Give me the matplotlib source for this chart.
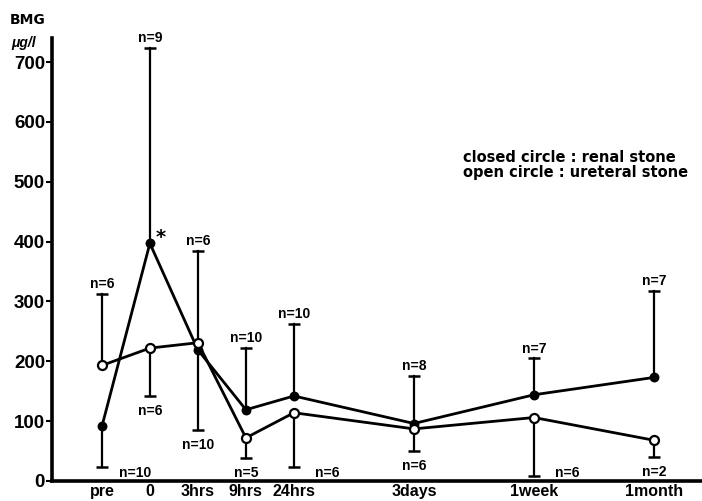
import matplotlib
matplotlib.use("Agg")
import matplotlib.pyplot as plt

# time points (x positions follow the uneven spacing of the original)
times = ["pre", "0", "3hrs", "9hrs", "24hrs", "3days", "1week", "1month"]
xpos = [0, 1, 2, 3, 4, 6.5, 9, 11.5]

# closed circle : renal stone
renal = [91, 397, 219, 119, 142, 96, 144, 173]
renal_bar = [23, 724, 385, 222, 262, 176, 205, 318]
renal_n = [10, 9, 6, 10, 10, 8, 7, 7]

# open circle : ureteral stone
ureteral = [193, 222, 231, 72, 114, 87, 106, 68]
ureteral_bar = [313, 142, 85, 39, 23, 50, 8, 40]
ureteral_n = [6, 6, 10, 5, 6, 6, 6, 2]

yticks = [0, 100, 200, 300, 400, 500, 600, 700]

lib = ["Liberation Sans", "DejaVu Sans"]

fig = plt.figure(figsize=(7.02, 5.01), dpi=100)
ax = fig.add_axes([0.074, 0.04, 0.926, 0.884])
ax.set_xlim(-1.04, 12.5)
ax.set_ylim(0, 740)

for s in ["top", "right"]:
    ax.spines[s].set_visible(False)
ax.spines["left"].set_linewidth(2.6)
ax.spines["bottom"].set_linewidth(2.6)

ax.set_yticks(yticks)
ax.set_yticklabels([str(v) for v in yticks], family=lib, fontweight="bold", fontsize=13.5)
ax.tick_params(axis="y", length=4, width=1.5, pad=1)
ax.set_xticks(xpos)
ax.set_xticklabels(times, family=lib, fontweight="bold", fontsize=11.5)
ax.tick_params(axis="x", length=0, pad=2)


def draw_series(vals, bars, ns, filled):
    # error bars, one-sided
    for x, v, b, n in zip(xpos, vals, bars, ns):
        ax.plot([x, x], [v, b], color="black", lw=1.6, zorder=2)
        ax.plot([x], [b], marker="_", ms=8, mew=1.8, color="black", zorder=2)
        if b > v:
            ax.annotate(f"n={n}", (x, b), xytext=(0, 7), textcoords="offset points",
                        ha="center", va="center", family=lib, fontweight="bold", fontsize=10)
        elif b < 30:
            # label sits on the baseline, shifted right
            ax.annotate(f"n={n}", (x + 0.7, 0), xytext=(0, 6), textcoords="offset points",
                        ha="center", va="center", family=lib, fontweight="bold", fontsize=10)
        else:
            ax.annotate(f"n={n}", (x, b), xytext=(0, -11), textcoords="offset points",
                        ha="center", va="center", family=lib, fontweight="bold", fontsize=10)
    ax.plot(xpos, vals, color="black", lw=2.0, zorder=3,
            marker="o", ms=6.5 if not filled else 5.5, mew=1.6,
            mfc="black" if filled else "white", mec="black")


draw_series(renal, renal_bar, renal_n, True)
draw_series(ureteral, ureteral_bar, ureteral_n, False)

ax.annotate("*", (xpos[1], renal[1]), xytext=(8, 4), textcoords="offset points",
            ha="center", va="center", fontsize=14, fontweight="bold")

fig.text(0.014, 0.96, "BMG", fontsize=10, fontweight="bold", family="DejaVu Sans",
         va="center", ha="left")
fig.text(0.016, 0.914, "μg/l", fontsize=10, fontweight="bold", family=lib,
         va="center", ha="left", style="italic")

fig.text(0.66, 0.685, "closed circle : renal stone", fontsize=10.5, fontweight="bold",
         family="DejaVu Sans", va="center", ha="left")
fig.text(0.66, 0.655, "open circle : ureteral stone", fontsize=10.5, fontweight="bold",
         family="DejaVu Sans", va="center", ha="left")

fig.savefig("out.png", dpi=100)
